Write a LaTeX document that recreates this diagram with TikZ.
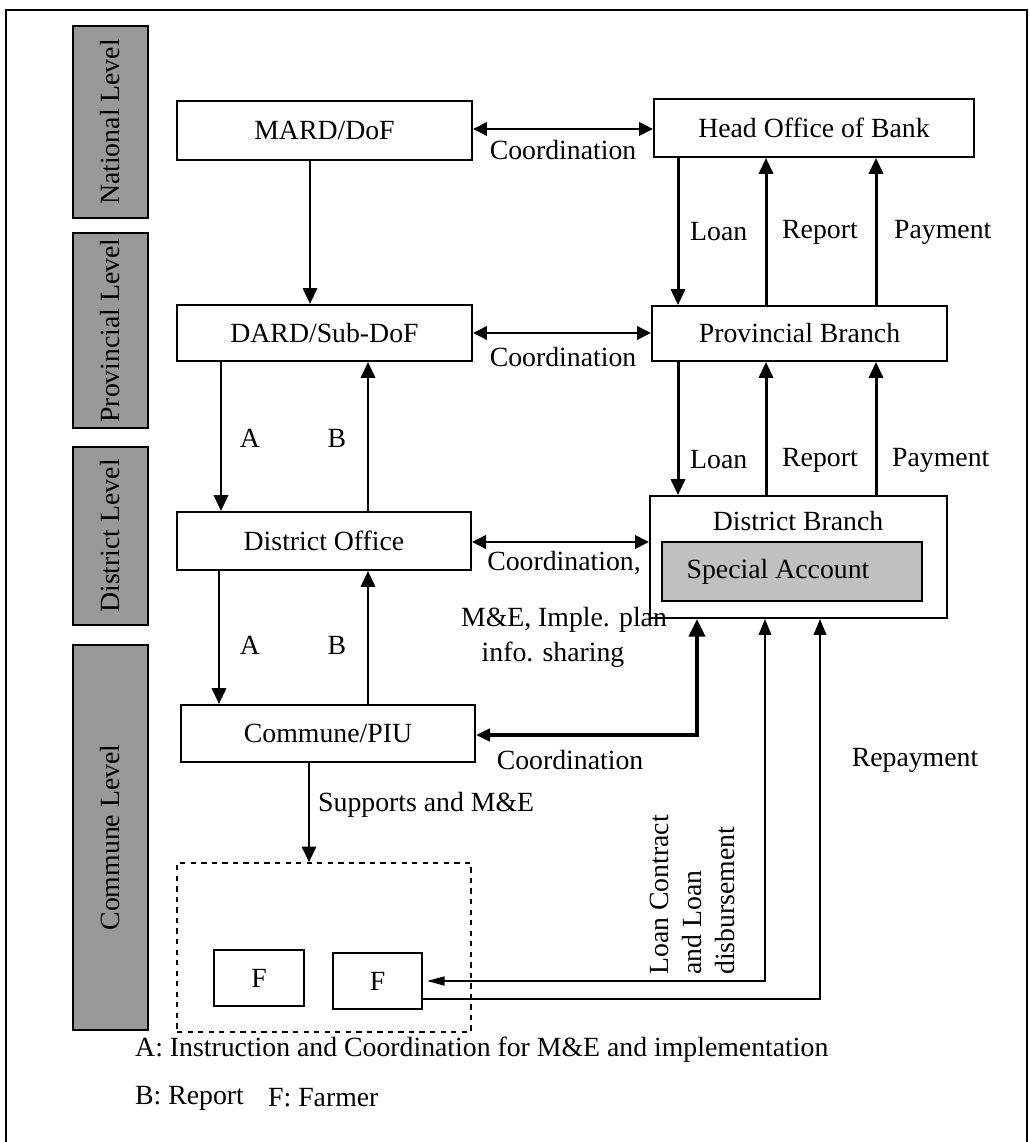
\documentclass[tikz,border=0pt]{standalone}
\usepackage{fontspec}
\setmainfont{Liberation Serif}
\usetikzlibrary{arrows.meta,calc}
\definecolor{barg}{HTML}{999999}
\definecolor{specg}{HTML}{C0C0C0}
\begin{document}
\begin{tikzpicture}[x=0.02cm,y=-0.02cm,
  every node/.style={font=\fontsize{15.8}{18.7}\selectfont},
  box/.style={draw,line width=1.1pt,fill=white,inner sep=0pt},
  bar/.style={draw,line width=1.1pt,fill=barg,inner sep=0pt,rotate=90},
  arr/.style={line width=1.7pt,-{Triangle[length=9pt,width=8pt]}},
  dbl/.style={line width=1.7pt,{Triangle[length=8pt,width=7.5pt]}-{Triangle[length=8pt,width=7.5pt]}},
  thickdbl/.style={line width=2.8pt,{Triangle[length=8pt,width=7pt]}-{Triangle[length=10pt,width=9pt]}},
  thindbl/.style={line width=1.2pt,{Triangle[length=10pt,width=5pt]}-{Triangle[length=9pt,width=7pt]}},
  rep/.style={line width=1.4pt,-{Triangle[length=9pt,width=7pt]}},
  lbl/.style={anchor=west}
]
\useasboundingbox (0,0) rectangle (1030,1142);
\draw[line width=1pt] (6,1160) -- (6,10) -- (1027,10) -- (1027,1160);

% level bars
\node[bar,minimum width=3.84cm,minimum height=1.5cm] (nat) at (110.5,122) {National Level};
\node[bar,minimum width=3.9cm,minimum height=1.5cm] (pbar) at (110.5,330.5) {Provincial Level};
\node[bar,minimum width=3.56cm,minimum height=1.5cm] (dbar) at (110.5,536) {District Level};
\node[bar,minimum width=7.7cm,minimum height=1.5cm] (cbar) at (110.5,837.5) {Commune Level};

% boxes
\node[box,minimum width=5.9cm,minimum height=1.18cm] (mard) at (324.5,130.5) {MARD/DoF};
\node[box,minimum width=6.4cm,minimum height=1.16cm] (head) at (814,128) {Head Office of Bank};
\node[box,minimum width=5.9cm,minimum height=1.12cm] (dard) at (324.5,333) {DARD/Sub-DoF};
\node[box,minimum width=5.9cm,minimum height=1.1cm] (prov) at (799.5,333.5) {Provincial Branch};
\node[box,minimum width=5.88cm,minimum height=1.16cm] (dist) at (324,541) {District Office};
\node[box,minimum width=5.94cm,minimum height=2.44cm] (dbr) at (798.5,557) {};
\node (dbrt) at (798,521) {District Branch};
\node[box,fill=specg,minimum width=5.2cm,minimum height=1.18cm] (spec) at (792,571.5) {};
\node (spect) at (778,571.5) {Special Account};
\node[box,minimum width=5.88cm,minimum height=1.14cm] (comm) at (328,733.5) {Commune/PIU};
\node[draw,dashed,line width=0.8pt,inner sep=0pt,minimum width=5.88cm,minimum height=3.38cm] (farm) at (324,947.5) {};
\node[box,minimum width=1.8cm,minimum height=1.12cm] (f1) at (259,978) {F};
\node[box,minimum width=1.78cm,minimum height=1.12cm] (f2) at (377.5,981) {F};

% helper coordinates
\coordinate (cM) at (310,0);
\coordinate (cL) at (678,0);
\coordinate (cR) at (766,0);
\coordinate (cP) at (876,0);
\coordinate (cA1) at (221,0);
\coordinate (cA2) at (219,0);
\coordinate (cB) at (368,0);
\coordinate (cCo) at (697,0);
\coordinate (cLC) at (765,0);
\coordinate (cRp) at (820,0);
\coordinate (cS) at (309,0);
\coordinate (y1) at (0,129);
\coordinate (y2) at (0,333);
\coordinate (y3) at (0,542);
\coordinate (yCo) at (0,735);
\coordinate (yLC) at (0,981);
\coordinate (yRp) at (0,999);

% connectors
\draw[dbl] (mard.east |- y1) -- (head.west |- y1);
\draw[arr] (mard.south -| cM) -- (dard.north -| cM);
\draw[arr] (head.south -| cL) -- (prov.north -| cL);
\draw[arr] (prov.north -| cR) -- (head.south -| cR);
\draw[arr] (prov.north -| cP) -- (head.south -| cP);
\draw[dbl] (dard.east |- y2) -- (prov.west |- y2);
\draw[arr] (prov.south -| cL) -- (dbr.north -| cL);
\draw[arr] (dbr.north -| cR) -- (prov.south -| cR);
\draw[arr] (dbr.north -| cP) -- (prov.south -| cP);
\draw[arr] (dard.south -| cA1) -- (dist.north -| cA1);
\draw[arr] (dist.north -| cB) -- (dard.south -| cB);
\draw[dbl] (dist.east |- y3) -- (dbr.west |- y3);
\draw[arr] (dist.south -| cA2) -- (comm.north -| cA2);
\draw[arr] (comm.north -| cB) -- (dist.south -| cB);
\draw[thickdbl] (comm.east |- yCo) -- (cCo |- yCo) -- (dbr.south -| cCo);
\draw[thindbl,shorten <=0.08cm] (f2.east |- yLC) -- (cLC |- yLC) -- (dbr.south -| cLC);
\draw[rep] (f2.east |- yRp) -- (cRp |- yRp) -- (dbr.south -| cRp);
\draw[arr] (comm.south -| cS) -- (farm.north -| cS);

% labels
\node (co1) at (563,150) {Coordination};
\node (co2) at (563,357) {Coordination};
\node[lbl] (l1) at (684,232) {Loan};
\node[lbl] (r1) at (776,232) {Report};
\node[lbl] (p1) at (888,232) {Payment};
\node[lbl] (l2) at (684,460) {Loan};
\node[lbl] (r2) at (776,460) {Report};
\node[lbl] (p2) at (886,460) {Payment};
\node (a1) at (250,438) {A};
\node (b1) at (337,438) {B};
\node (a2) at (250,645) {A};
\node (b2) at (337,645) {B};
\node (co3) at (564,563) {Coordination,};
\node (co4) at (564,620) {M\&E, Imple. plan};
\node (co5) at (553,655) {info. sharing};
\node (co6) at (570,760) {Coordination};
\node (repl) at (915,760) {Repayment};
\node[lbl] (supl) at (312,805) {Supports and M\&E};
\node[rotate=90,align=left,anchor=north west,inner sep=0pt] (lcl) at (650,975) {Loan Contract\\and Loan\\disbursement};

% legend
\node[lbl] (lgA) at (129,1050) {A: Instruction and Coordination for M\&E and implementation};
\node[lbl] (lgB) at (129,1098) {B: Report};
\node[lbl] (lgF) at (262,1098) {F: Farmer};
\end{tikzpicture}
\end{document}
